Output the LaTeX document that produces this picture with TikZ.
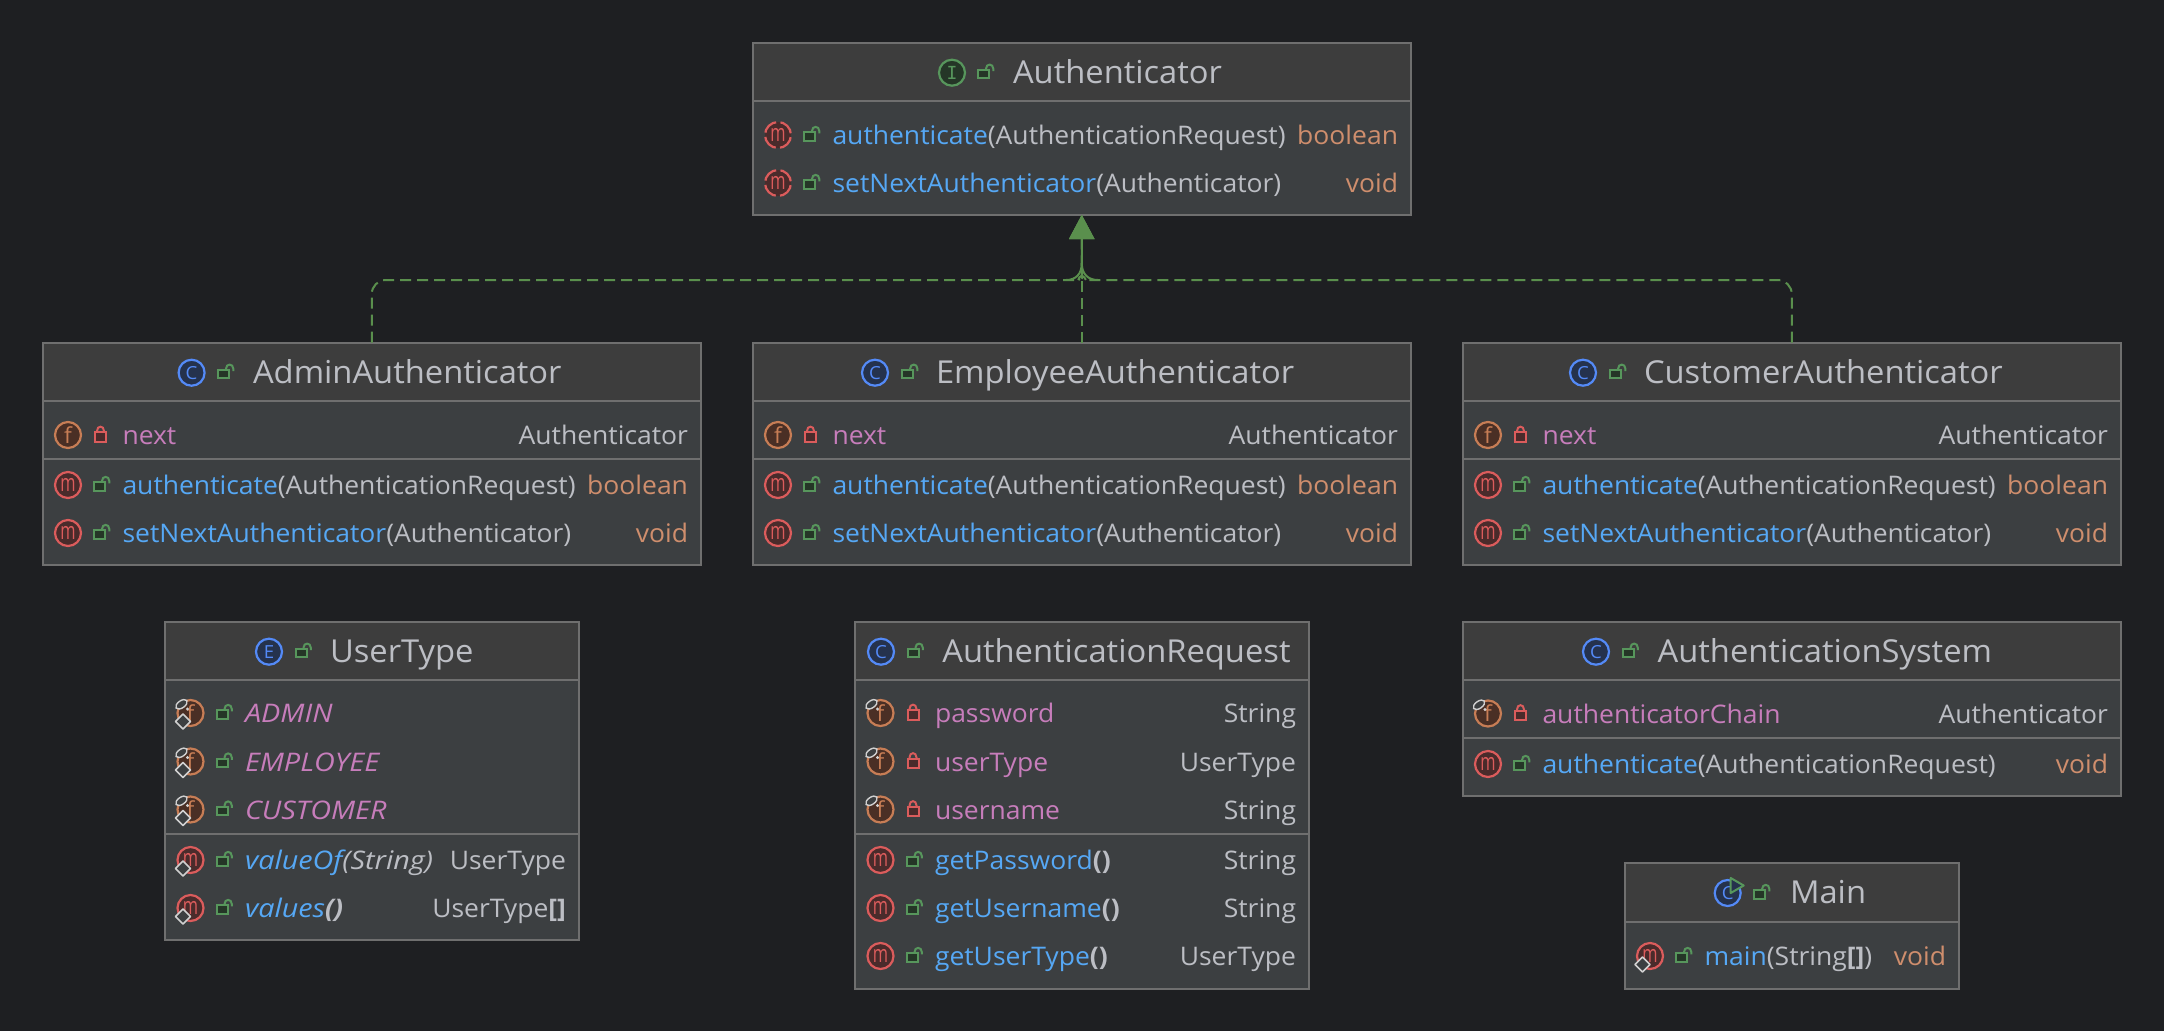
\documentclass[tikz,border=0pt]{standalone}
\usepackage{fontspec}
\usepackage{graphicx}
\setmainfont[FakeStretch=1.035,ItalicFeatures={FakeStretch=1.125},BoldFeatures={FakeStretch=1.035}]{Open Sans}
\newfontfamily\monof{DejaVu Sans Mono}
\usetikzlibrary{arrows.meta,calc,shapes.geometric}
\definecolor{bgc}{HTML}{1E1F22}
\definecolor{bodyc}{HTML}{3C3F41}
\definecolor{headc}{HTML}{3D3D3D}
\definecolor{edgec}{HTML}{6F6F6F}
\definecolor{txtc}{HTML}{BCBEC4}
\definecolor{mthc}{HTML}{56A8F5}
\definecolor{fldc}{HTML}{C77DBB}
\definecolor{kwc}{HTML}{CF8E6D}
\definecolor{redS}{HTML}{DB5C5C}\definecolor{redF}{HTML}{4A2B2B}
\definecolor{orgS}{HTML}{C77D55}\definecolor{orgF}{HTML}{4A2F25}
\definecolor{bluS}{HTML}{548AF7}\definecolor{bluF}{HTML}{25324D}
\definecolor{grnS}{HTML}{57965C}\definecolor{grnF}{HTML}{253627}
\definecolor{linkc}{HTML}{5A8F4D}
\definecolor{pinc}{HTML}{D0D0D0}
\newcounter{tn}
\tikzset{
  every node/.style={inner sep=0pt,outer sep=0pt},
  classbox/.style={draw=edgec,line width=1pt,fill=bodyc,rectangle},
  sepline/.style={draw=edgec,line width=1pt},
  headtxt/.style={anchor=base west,text=txtc,font=\fontsize{15.8}{18}\selectfont},
  rowtxt/.style={anchor=base west,text=txtc,font=\fontsize{12.8}{15}\selectfont},
  rowtxtr/.style={anchor=base east,text=txtc,font=\fontsize{12.8}{15}\selectfont},
  ictxt/.style={anchor=center,font=\fontsize{9}{10}\selectfont},
  impl/.style={draw=linkc,line width=1pt,dash pattern=on 5.5pt off 3pt,rounded corners=7pt,
    -{Triangle[length=12pt,width=12.5pt,fill=linkc,color=linkc]}},
  impljoin/.style={draw=linkc,line width=1pt},
}
% class box: name left top right bottom sep1
\newcommand\cbox[6]{%
  \node[classbox,minimum width={(#4-#2)*0.5pt},minimum height={(#5-#3)*0.5pt}] (#1) at ({(#2+#4)/2},{(#3+#5)/2}) {};
  \fill[headc] (#2+1,#3+1) rectangle (#4-1,#6);
  \draw[sepline] (#2+1,#6) -- (#4-1,#6);
}
\newcommand\sepat[3]{\draw[sepline] (#1+1,#3) -- (#2-1,#3);}
% icons
\newcommand\ic[5]{%
  \draw[draw=#3,fill=#4,line width=1.1pt] (#1,#2) circle[radius=13];
  \stepcounter{tn}\node[ictxt,text=#3] (t\thetn) at (#1,#2) {#5};
}
\newcommand\letm{\fontsize{12}{12}\selectfont\scalebox{.66}[1]{m}}
\newcommand\letf{\fontsize{11}{12}\selectfont f}
\newcommand\icM[2]{\ic{#1}{#2}{redS}{redF}{\letm}}
\newcommand\icA[2]{%
  \fill[redF] (#1,#2) circle[radius=13];
  \draw[draw=redS,line width=1.1pt,dash pattern=on 8pt off 2.2pt,dash phase=9.1pt] (#1,#2) circle[radius=13];
  \stepcounter{tn}\node[ictxt,text=redS] (t\thetn) at (#1,#2) {\letm};
}
\newcommand\icF[2]{\ic{#1}{#2}{orgS}{orgF}{\letf}}
\newcommand\icC[2]{\ic{#1}{#2}{bluS}{bluF}{C}}
\newcommand\icE[2]{\ic{#1}{#2}{bluS}{bluF}{E}}
\newcommand\icI[2]{\ic{#1}{#2}{grnS}{grnF}{\monof I}}
\newcommand\pinF[2]{%
  \fill[pinc] (#1-3,#2-4) circle[radius=1.6];
  \draw[draw=pinc,fill=bodyc,line width=.7pt,rotate around={35:(#1-9,#2-8.7)}] (#1-9,#2-8.7) ellipse[x radius=6.5,y radius=3.6];
}
\newcommand\pinS[2]{%
  \draw[draw=pinc,fill=bodyc,line width=.75pt,line join=round] (#1-7.5,#2+1) -- (#1,#2+8.5) -- (#1-7.5,#2+16) -- (#1-15,#2+8.5) -- cycle;
}
\newcommand\lockO[2]{%
  \draw[draw=grnS,fill=grnF,line width=1pt] (#1-7.2,#2-3) rectangle (#1+3.5,#2+5.7);
  \draw[draw=grnS,line width=1pt] (#1+0.5,#2-3) -- (#1+0.5,#2-4) .. controls (#1+0.5,#2-9.5) and (#1+7.8,#2-9.5) .. (#1+7.8,#2-4) -- (#1+7.8,#2-1.7);
}
\newcommand\lockC[2]{%
  \draw[draw=redS,fill=redF,line width=1pt] (#1-6.5,#2-3) rectangle (#1+4.5,#2+6.7);
  \draw[draw=redS,line width=1pt] (#1-4.5,#2-3) -- (#1-4.5,#2-4) .. controls (#1-4.5,#2-9.8) and (#1+2.5,#2-9.8) .. (#1+2.5,#2-4) -- (#1+2.5,#2-3);
}
% texts
\newcommand\tl[3]{\stepcounter{tn}\node[rowtxt] (t\thetn) at (#1,{#2+9.5}) {#3};}
\newcommand\tr[3]{\stepcounter{tn}\node[rowtxtr] (t\thetn) at (#1,{#2+9.5}) {#3};}
\newcommand\hd[3]{\stepcounter{tn}\node[headtxt] (t\thetn) at (#1,{#2+10.6}) {#3};}
\newcommand\mth[1]{\textcolor{mthc}{#1}}
\newcommand\fld[1]{\textcolor{fldc}{#1}}
\newcommand\kw[1]{\textcolor{kwc}{#1}}
% header: icon-cmd iconx lockx textx y text
\newcommand\hdr[6]{#1{#2}{#5}\lockO{#3}{#5}\hd{#4}{#5}{#6}}
% row: left right y iconcmd lockcmd name type
\newcommand\rw[7]{#4{#1+25.5}{#3}#5{#1+59}{#3}\tl{{#1+80}}{#3}{#6}\tr{{#2-13}}{#3}{#7}}
\begin{document}
\begin{tikzpicture}[x=0.5pt,y=-0.5pt]
\useasboundingbox (0,0) rectangle (2164,1030);
\fill[bgc] (-6,-6) rectangle (2170,1036);

% Authenticator
\cbox{Authenticator}{752.5}{42.5}{1411}{215}{100.7}
\hdr{\icI}{952}{985.5}{1013}{72.7}{Authenticator}
\rw{752.5}{1411}{135}{\icA}{\lockO}{\mth{authenticate}(AuthenticationRequest)}{\kw{boolean}}
\rw{752.5}{1411}{183}{\icA}{\lockO}{\mth{setNextAuthenticator}(Authenticator)}{\kw{void}}

% AdminAuthenticator
\cbox{AdminAuthenticator}{42.5}{342.7}{701}{565}{401}
\sepat{42.5}{701}{458.7}
\hdr{\icC}{191.6}{225.5}{253}{372.7}{AdminAuthenticator}
\rw{42.5}{701}{435}{\icF}{\lockC}{\fld{next}}{Authenticator}
\rw{42.5}{701}{485}{\icM}{\lockO}{\mth{authenticate}(AuthenticationRequest)}{\kw{boolean}}
\rw{42.5}{701}{533}{\icM}{\lockO}{\mth{setNextAuthenticator}(Authenticator)}{\kw{void}}

% EmployeeAuthenticator
\cbox{EmployeeAuthenticator}{752.5}{342.7}{1411}{565}{401}
\sepat{752.5}{1411}{458.7}
\hdr{\icC}{875}{909.6}{936}{372.7}{EmployeeAuthenticator}
\rw{752.5}{1411}{435}{\icF}{\lockC}{\fld{next}}{Authenticator}
\rw{752.5}{1411}{485}{\icM}{\lockO}{\mth{authenticate}(AuthenticationRequest)}{\kw{boolean}}
\rw{752.5}{1411}{533}{\icM}{\lockO}{\mth{setNextAuthenticator}(Authenticator)}{\kw{void}}

% CustomerAuthenticator
\cbox{CustomerAuthenticator}{1462.5}{342.7}{2121}{565}{401}
\sepat{1462.5}{2121}{458.7}
\hdr{\icC}{1583}{1617.6}{1644}{372.7}{CustomerAuthenticator}
\rw{1462.5}{2121}{435}{\icF}{\lockC}{\fld{next}}{Authenticator}
\rw{1462.5}{2121}{485}{\icM}{\lockO}{\mth{authenticate}(AuthenticationRequest)}{\kw{boolean}}
\rw{1462.5}{2121}{533}{\icM}{\lockO}{\mth{setNextAuthenticator}(Authenticator)}{\kw{void}}

% UserType
\cbox{UserType}{165}{622}{579}{940}{680}
\sepat{165}{579}{834}
\hdr{\icE}{269}{303}{330}{651.7}{UserType}
\newcommand\icFps[2]{\icF{#1}{#2}\pinF{#1}{#2}\pinS{#1}{#2}}
\newcommand\icMs[2]{\icM{#1}{#2}\pinS{#1}{#2}}
\rw{165}{579}{713}{\icFps}{\lockO}{\fld{\itshape ADMIN}}{}
\rw{165}{579}{761.5}{\icFps}{\lockO}{\fld{\itshape EMPLOYEE}}{}
\rw{165}{579}{809.5}{\icFps}{\lockO}{\fld{\itshape CUSTOMER}}{}
\rw{165}{579}{860}{\icMs}{\lockO}{\itshape\mth{valueOf}(String)}{UserType}
\rw{165}{579}{908}{\icMs}{\lockO}{\itshape\mth{values}\textbf{()}}{UserType\textbf{[]}}

% AuthenticationRequest
\cbox{AuthenticationRequest}{855}{622}{1309}{989}{680}
\sepat{855}{1309}{834}
\hdr{\icC}{881}{915}{942.3}{651.7}{AuthenticationRequest}
\newcommand\icFp[2]{\icF{#1}{#2}\pinF{#1}{#2}}
\rw{855}{1309}{713}{\icFp}{\lockC}{\fld{password}}{String}
\rw{855}{1309}{761.5}{\icFp}{\lockC}{\fld{userType}}{UserType}
\rw{855}{1309}{809.5}{\icFp}{\lockC}{\fld{username}}{String}
\rw{855}{1309}{860}{\icM}{\lockO}{\mth{getPassword}\textbf{()}}{String}
\rw{855}{1309}{908}{\icM}{\lockO}{\mth{getUsername}\textbf{()}}{String}
\rw{855}{1309}{956}{\icM}{\lockO}{\mth{getUserType}\textbf{()}}{UserType}

% AuthenticationSystem
\cbox{AuthenticationSystem}{1462.5}{622}{2121}{796}{680}
\sepat{1462.5}{2121}{738}
\hdr{\icC}{1596}{1630}{1657.6}{651.7}{AuthenticationSystem}
\rw{1462.5}{2121}{713.5}{\icFp}{\lockC}{\fld{authenticatorChain}}{Authenticator}
\rw{1462.5}{2121}{764}{\icM}{\lockO}{\mth{authenticate}(AuthenticationRequest)}{\kw{void}}

% Main
\cbox{Main}{1624.5}{863}{1959}{989}{922}
\newcommand\icCr[2]{\icC{#1}{#2}\draw[draw=grnS,fill=bluF,line width=1pt,line join=round] (#1+3,#2-15) -- (#1+3,#2) -- (#1+16,#2-7.5) -- cycle;}
\hdr{\icCr}{1727.7}{1761.6}{1790}{893}{Main}
\rw{1624.5}{1959}{956}{\icMs}{\lockO}{\mth{main}(String\textbf{[]})}{\kw{void}}

% connectors
\coordinate (jl) at (1066,280);
\coordinate (jr) at (1098,280);
\coordinate (ja) at (1081.75,263);
\coordinate (jt) at (1081.75,240);
\draw[impl] (AdminAuthenticator.north) |- (jl) .. controls (1076,280) and (1081.75,274) .. (ja) -- (Authenticator.south);
\draw[impl] (CustomerAuthenticator.north) |- (jr) .. controls (1088,280) and (1081.75,274) .. (ja) -- (Authenticator.south);
\draw[impl] (EmployeeAuthenticator.north) -- (Authenticator.south);
\draw[impljoin] (jl) .. controls (1076,280) and (1081.75,274) .. (ja) -- (jt);
\draw[impljoin] (jr) .. controls (1088,280) and (1081.75,274) .. (ja);
\end{tikzpicture}
\end{document}
